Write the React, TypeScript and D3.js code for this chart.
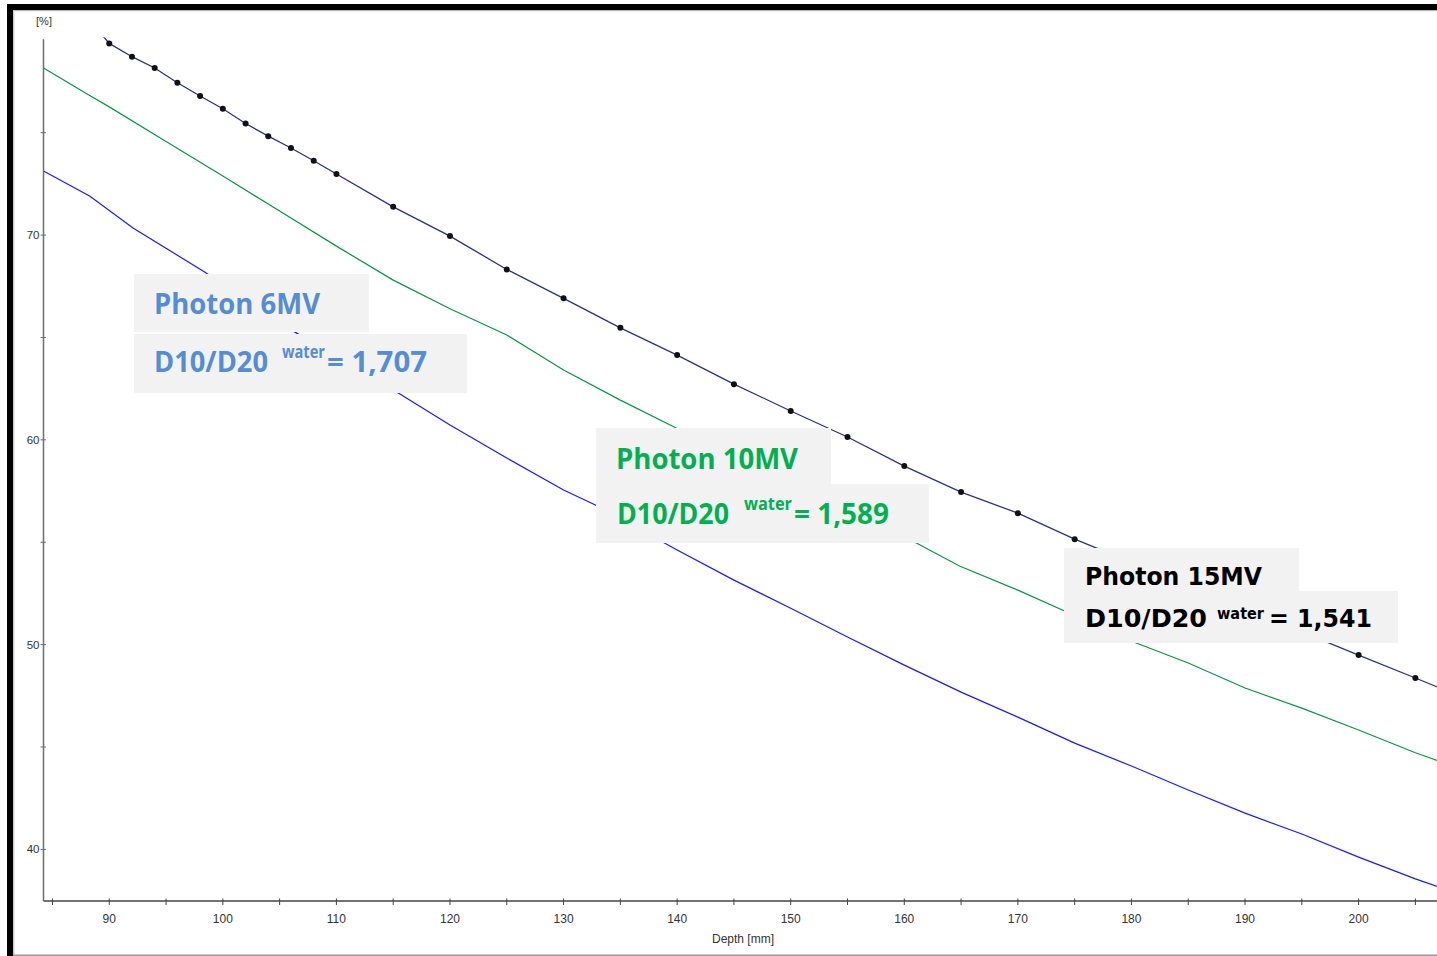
import React from 'react';
import * as d3 from 'd3';

const W = 1437;
const H = 956;

// Depth-dose curves (depth in mm, relative dose in %)
const depth6 = [84.21, 88.3, 92.09, 98.43, 106.35, 115.59, 120, 125, 130, 132.85, 140, 145, 150, 155, 160, 165, 170, 175, 180, 185, 190, 195, 200, 205, 207.1];
const dose6 = [73.13, 71.9, 70.34, 68.19, 65.26, 62.24, 60.72, 59.11, 57.55, 56.81, 54.62, 53.15, 51.78, 50.37, 49.0, 47.68, 46.46, 45.19, 44.07, 42.9, 41.77, 40.75, 39.62, 38.56, 38.16];

const depth10 = [84.21, 88.2, 90, 95, 100, 105, 110, 115, 120, 125, 130, 135, 140, 161.06, 164.86, 170, 175, 180.42, 185, 190, 195, 200, 205, 207.1];
const dose10 = [78.16, 76.84, 76.26, 74.57, 72.88, 71.17, 69.46, 67.8, 66.4, 65.12, 63.41, 61.94, 60.55, 54.96, 53.84, 52.66, 51.42, 50.08, 49.1, 47.88, 46.9, 45.83, 44.72, 44.31];

// 15 MV measured points (drawn as dots)
const depth15 = [90, 92, 94, 96, 98, 100, 102, 104, 106, 108, 110, 115, 120, 125, 130, 135, 140, 145, 150, 155, 160, 165, 170, 175, 200, 205];
const dose15 = [79.36, 78.71, 78.16, 77.44, 76.79, 76.17, 75.45, 74.83, 74.25, 73.63, 72.98, 71.38, 69.95, 68.32, 66.91, 65.47, 64.14, 62.72, 61.41, 60.14, 58.72, 57.45, 56.42, 55.15, 49.49, 48.37];
// 15 MV curve continuation beyond the first and last measured points
const depth15Lead = [89.4];
const dose15Lead = [79.75];
const depth15Tail = [207.5];
const dose15Tail = [47.8];

const xMajorTicks = [90, 100, 110, 120, 130, 140, 150, 160, 170, 180, 190, 200];
const xMinorTicks = [85, 95, 105, 115, 125, 135, 145, 155, 165, 175, 185, 195, 205];
const yMajorTicks = [40, 50, 60, 70];
const yMinorTicks = [45, 55, 65, 75];

const xTitle = 'Depth [mm]';
const yTitle = '[%]';

type Note = {
  title: string;
  ratio: string;
  color: string;
  font: string;
  box1: [number, number, number, number];
  box2: [number, number, number, number];
  titlePos: [number, number, number];
  dPos: [number, number, number];
  wPos: [number, number, number];
  vPos: [number, number, number];
  size: number;
  supSize: number;
};

const notes: Note[] = [
  {
    title: 'Photon 6MV',
    ratio: '= 1,707',
    color: '#548dd4',
    font: "'Open Sans', 'Noto Sans', sans-serif",
    box1: [134, 274, 235, 58],
    box2: [134, 334, 333, 59],
    titlePos: [154, 314, 166],
    dPos: [154, 372, 114],
    wPos: [282, 358, 43],
    vPos: [327, 372, 100],
    size: 28,
    supSize: 17,
  },
  {
    title: 'Photon 10MV',
    ratio: '= 1,589',
    color: '#00b050',
    font: "'Open Sans', 'Noto Sans', sans-serif",
    box1: [596, 428, 235, 58],
    box2: [596, 484, 333, 59],
    titlePos: [616, 469, 182],
    dPos: [617, 524, 112],
    wPos: [744, 510, 48],
    vPos: [794, 524, 95],
    size: 28,
    supSize: 17,
  },
  {
    title: 'Photon 15MV',
    ratio: '= 1,541',
    color: '#000000',
    font: "'DejaVu Sans', Verdana, sans-serif",
    box1: [1064, 548, 235, 43],
    box2: [1064, 591, 334, 52],
    titlePos: [1085, 585, 177],
    dPos: [1085, 627, 122],
    wPos: [1217, 619, 47],
    vPos: [1269, 627, 103],
    size: 24,
    supSize: 15,
  },
];

const zip = (xs: number[], ys: number[]) => xs.map((x, i) => ({ x, y: ys[i] }));

export default function App() {
  const left = 43.5;
  const right = 1438.1;
  const top = 39.3;
  const bottom = 901;

  const x = d3.scaleLinear().domain([84.21, 207]).range([left, right]);
  const y = d3.scaleLinear().domain([37.48, 79.56]).range([bottom, top]);

  const line = d3
    .line<{ x: number; y: number }>()
    .x((d) => x(d.x))
    .y((d) => y(d.y));

  const s6 = zip(depth6, dose6);
  const s10 = zip(depth10, dose10);
  const pts15 = zip(depth15, dose15);
  const s15 = [...zip(depth15Lead, dose15Lead), ...pts15, ...zip(depth15Tail, dose15Tail)];

  const axisColor = '#6e6e6e';
  const labelFont = "'Liberation Sans', Arial, sans-serif";

  return (
    <svg
      width={W}
      height={H}
      style={{ position: 'absolute', left: 0, top: 0, display: 'block', background: '#fff' }}
    >
      <defs>
        <clipPath id="plot-area">
          <rect x={left} y={top - 2} width={right - left} height={bottom - top + 2} />
        </clipPath>
      </defs>

      {/* window frame */}
      <rect x={0} y={0} width={W} height={H} fill="#fff" />
      <rect x={7} y={4} width={W - 7} height={6} fill="#000" />
      <rect x={13} y={10} width={W - 13} height={1.2} fill="#b8b8b8" />
      <rect x={7} y={4} width={6} height={H - 4} fill="#000" />
      <rect x={13} y={10} width={1.5} height={H - 10} fill="#d0d0d0" />
      <rect x={13} y={954.5} width={W - 13} height={1.5} fill="#9a9a9a" />

      {/* curves */}
      <g clipPath="url(#plot-area)" fill="none">
        <path d={line(s6) || ''} stroke="#1a1aff" strokeWidth={1.2} />
        <path d={line(s10) || ''} stroke="#0a9448" strokeWidth={1.2} />
        <path d={line(s15) || ''} stroke="#2b3183" strokeWidth={1.3} />
        {pts15.map((p, i) => (
          <circle key={i} cx={x(p.x)} cy={y(p.y)} r={3} fill="#111" stroke="none" />
        ))}
      </g>

      {/* axes */}
      <g fontFamily={labelFont} fontSize={12} fill="#333">
        <line x1={left} y1={top} x2={left} y2={bottom} stroke={axisColor} strokeWidth={1.5} />
        <line x1={left} y1={bottom} x2={W} y2={bottom} stroke="#444" strokeWidth={1.5} />
        {yMajorTicks.concat(yMinorTicks).map((t) => (
          <line key={'yt' + t} x1={40.5} x2={46} y1={y(t)} y2={y(t)} stroke={axisColor} strokeWidth={1} />
        ))}
        {yMajorTicks.map((t) => (
          <text key={'yl' + t} x={39.5} y={y(t) + 4} textAnchor="end" fontSize={11.5}>
            {t}
          </text>
        ))}
        {xMajorTicks.concat(xMinorTicks).map((t) => (
          <line key={'xt' + t} x1={x(t)} x2={x(t)} y1={898.5} y2={905} stroke="#444" strokeWidth={1} />
        ))}
        {xMajorTicks.map((t) => (
          <text key={'xl' + t} x={x(t)} y={923} textAnchor="middle" fontSize={12}>
            {t}
          </text>
        ))}
        <text x={743} y={943} textAnchor="middle" fontSize={12}>
          {xTitle}
        </text>
        <text x={44} y={25} textAnchor="middle" fontSize={11}>
          {yTitle}
        </text>
      </g>

      {/* annotations */}
      {notes.map((n) => (
        <g key={n.title} fontFamily={n.font} fontWeight="bold" fill={n.color}>
          <rect x={n.box1[0]} y={n.box1[1]} width={n.box1[2]} height={n.box1[3]} fill="#f2f2f2" />
          <rect x={n.box2[0]} y={n.box2[1]} width={n.box2[2]} height={n.box2[3]} fill="#f2f2f2" />
          <text x={n.titlePos[0]} y={n.titlePos[1]} fontSize={n.size} textLength={n.titlePos[2]} lengthAdjust="spacingAndGlyphs">
            {n.title}
          </text>
          <text x={n.dPos[0]} y={n.dPos[1]} fontSize={n.size} textLength={n.dPos[2]} lengthAdjust="spacingAndGlyphs">
            D10/D20
          </text>
          <text x={n.wPos[0]} y={n.wPos[1]} fontSize={n.supSize} textLength={n.wPos[2]} lengthAdjust="spacingAndGlyphs">
            water
          </text>
          <text x={n.vPos[0]} y={n.vPos[1]} fontSize={n.size} textLength={n.vPos[2]} lengthAdjust="spacingAndGlyphs">
            {n.ratio}
          </text>
        </g>
      ))}
    </svg>
  );
}
